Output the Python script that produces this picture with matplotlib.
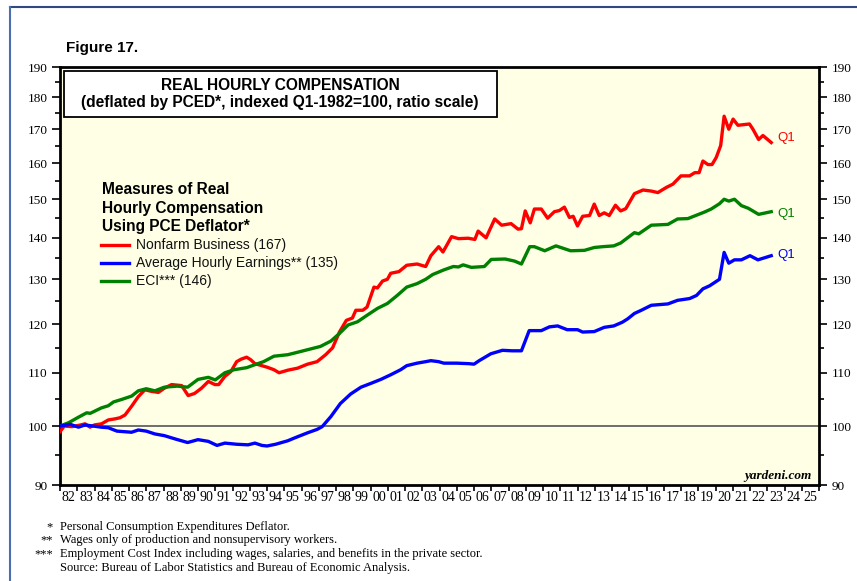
import numpy as np
import matplotlib
matplotlib.use('Agg')
from matplotlib import pyplot as plt
from matplotlib.lines import Line2D
from matplotlib.patches import Rectangle
from matplotlib.ticker import FixedLocator, NullFormatter, FuncFormatter

# values (decimal year, index Q1-1982=100)
nfb_t = [1982.0, 1982.25, 1982.7, 1983.2, 1983.45, 1983.74, 1984.0, 1984.41, 1984.8, 1985.2,
         1985.48, 1985.77, 1986.15, 1986.54, 1986.92, 1987.3, 1987.7, 1988.05, 1988.47, 1989.05,
         1989.43, 1989.8, 1990.2, 1990.6, 1990.98, 1991.2, 1991.56, 1991.9, 1992.24, 1992.5,
         1992.82, 1993.05, 1993.3, 1994.0, 1994.4, 1994.7, 1995.2, 1995.77, 1996.35, 1996.9,
         1997.4, 1997.8, 1998.2, 1998.6, 1998.95, 1999.15, 1999.55, 1999.8, 2000.2, 2000.4,
         2000.7, 2000.98, 2001.17, 2001.65, 2002.1, 2002.7, 2003.2, 2003.5, 2003.95, 2004.2,
         2004.7, 2005.1, 2005.66, 2006.05, 2006.24, 2006.7, 2007.2, 2007.6, 2008.15, 2008.55,
         2008.75, 2008.97, 2009.26, 2009.5, 2009.9, 2010.27, 2010.66, 2010.95, 2011.24, 2011.53,
         2011.75, 2012.0, 2012.3, 2012.7, 2012.97, 2013.26, 2013.55, 2013.84, 2014.2, 2014.5,
         2014.8, 2015.3, 2015.8, 2016.28, 2016.66, 2017.15, 2017.53, 2018.0, 2018.5, 2018.8,
         2019.05, 2019.27, 2019.56, 2019.8, 2020.04, 2020.3, 2020.5, 2020.77, 2021.02, 2021.3,
         2021.97, 2022.17, 2022.5, 2022.75, 2023.23]
nfb_v = [99.0, 100.0, 99.9, 100.2, 100.4, 99.8, 100.2, 100.4, 101.1, 101.3,
         101.5, 102.0, 103.6, 105.4, 106.7, 106.4, 106.2, 107.0, 107.7, 107.5,
         105.6, 106.0, 107.0, 108.3, 107.7, 107.7, 109.3, 110.2, 112.2, 112.7,
         113.1, 112.6, 111.8, 111.1, 110.6, 110.0, 110.5, 110.9, 111.7, 112.2,
         113.6, 115.0, 118.3, 120.8, 121.3, 123.0, 123.0, 123.7, 128.2, 128.0,
         129.6, 130.0, 131.4, 131.8, 133.3, 133.6, 133.0, 135.6, 137.8, 136.5,
         140.3, 139.8, 139.9, 139.6, 141.7, 140.0, 144.8, 143.2, 143.6, 142.2,
         142.3, 146.9, 143.8, 147.4, 147.4, 145.0, 146.7, 147.0, 147.9, 145.2,
         145.5, 143.0, 145.5, 145.7, 148.7, 145.7, 146.4, 145.7, 148.4, 146.9,
         147.5, 151.5, 152.5, 152.2, 151.8, 153.2, 154.1, 156.4, 156.4, 157.3,
         157.3, 160.6, 159.6, 159.6, 161.6, 165.1, 174.0, 170.0, 173.1, 171.2,
         171.6, 170.0, 166.9, 168.1, 166.0]

ahe_t = [1982.0, 1982.6, 1983.07, 1983.45, 1984.4, 1984.8, 1985.3, 1986.15, 1986.54, 1987.0,
         1987.5, 1988.05, 1988.7, 1989.4, 1990.0, 1990.6, 1991.1, 1991.56, 1992.24, 1992.9,
         1993.3, 1993.7, 1994.0, 1994.5, 1995.2, 1995.6, 1996.35, 1996.9, 1997.2, 1997.7,
         1998.25, 1998.85, 1999.45, 2000.0, 2000.6, 2001.17, 2001.75, 2002.1, 2002.7, 2003.2,
         2003.5, 2003.95, 2004.25, 2005.0, 2005.7, 2006.0, 2006.3, 2006.98, 2007.65, 2008.2,
         2008.75, 2009.2, 2009.9, 2010.37, 2010.85, 2011.4, 2012.0, 2012.3, 2012.97, 2013.55,
         2014.1, 2014.6, 2014.9, 2015.3, 2015.7, 2016.28, 2017.24, 2017.8, 2018.5, 2018.9,
         2019.27, 2019.66, 2020.23, 2020.5, 2020.77, 2021.1, 2021.5, 2022.0, 2022.46, 2023.23]
ahe_v = [100.0, 100.3, 99.8, 100.2, 99.8, 99.7, 99.1, 98.9, 99.3, 99.1,
         98.6, 98.3, 97.7, 97.1, 97.6, 97.3, 96.6, 97.0, 96.8, 96.7,
         97.0, 96.6, 96.5, 96.8, 97.4, 97.9, 98.8, 99.4, 99.9, 101.7,
         104.1, 105.9, 107.2, 107.9, 108.7, 109.6, 110.6, 111.4, 111.9, 112.2,
         112.4, 112.2, 111.9, 111.9, 111.8, 111.7, 112.4, 113.8, 114.5, 114.4,
         114.4, 118.6, 118.6, 119.4, 119.6, 118.8, 118.8, 118.3, 118.4, 119.3,
         119.6, 120.4, 121.1, 122.3, 123.0, 124.1, 124.4, 125.2, 125.6, 126.3,
         127.8, 128.5, 130.0, 136.4, 133.8, 134.6, 134.6, 135.6, 134.6, 135.6]

eci_t = [1982.0, 1982.5, 1983.07, 1983.55, 1983.75, 1984.4, 1984.8, 1985.1, 1985.6, 1986.15,
         1986.54, 1987.0, 1987.5, 1988.05, 1988.8, 1989.4, 1990.0, 1990.6, 1991.0, 1991.56,
         1992.1, 1992.82, 1993.3, 1993.8, 1994.4, 1995.2, 1995.77, 1996.55, 1997.1, 1997.7,
         1998.2, 1998.7, 1999.25, 1999.8, 2000.4, 2000.98, 2001.55, 2002.1, 2002.7, 2003.2,
         2003.6, 2004.25, 2004.8, 2005.1, 2005.37, 2005.85, 2006.6, 2007.0, 2007.8, 2008.35,
         2008.75, 2009.23, 2009.5, 2010.1, 2010.75, 2011.6, 2012.4, 2012.97, 2013.45, 2014.1,
         2014.5, 2014.9, 2015.3, 2015.55, 2016.28, 2017.24, 2017.8, 2018.4, 2019.36, 2019.75,
         2020.23, 2020.5, 2020.77, 2021.1, 2021.5, 2021.9, 2022.5, 2023.23]
eci_v = [100.0, 100.6, 101.6, 102.4, 102.3, 103.3, 103.7, 104.4, 104.9, 105.5,
         106.5, 106.9, 106.5, 107.2, 107.4, 107.2, 108.7, 109.1, 108.6, 110.0,
         110.6, 111.0, 111.6, 112.2, 113.3, 113.6, 114.1, 114.8, 115.3, 116.4,
         118.0, 119.8, 120.5, 121.9, 123.4, 124.5, 126.3, 128.2, 129.0, 130.0,
         131.1, 132.2, 133.0, 132.9, 133.4, 132.8, 133.0, 134.7, 134.8, 134.3,
         133.6, 137.8, 137.8, 136.8, 138.0, 136.8, 136.9, 137.6, 137.8, 138.0,
         138.7, 140.0, 141.3, 141.0, 143.2, 143.4, 144.8, 144.9, 146.6, 147.4,
         148.8, 150.0, 149.5, 150.0, 148.3, 147.6, 146.0, 146.7]

series_labels = ['Nonfarm Business (167)', 'Average Hourly Earnings** (135)', 'ECI*** (146)']
series_colors = ['#ff0000', '#0000ff', '#008000']

year_ticks = list(range(1982, 2027))
year_labels = ['%02d' % (y % 100) for y in range(1982, 2026)]

footnote_marks = ['*', '**', '***', '']
footnotes = ['Personal Consumption Expenditures Deflator.',
             'Wages only of production and nonsupervisory workers.',
             'Employment Cost Index including wages, salaries, and benefits in the private sector.',
             'Source: Bureau of Labor Statistics and Bureau of Economic Analysis.']

SANS = 'Liberation Sans'
SERIF = 'Liberation Serif'
W, H = 857, 581


def fx(px):
    return px / W


def fy(py):
    return 1 - py / H


fig = plt.figure(figsize=(W / 100, H / 100), dpi=100)
fig.patch.set_facecolor('white')

# page frame lines
fig.add_artist(Line2D([fx(10), 1.0], [fy(7), fy(7)], color='#2e4a80', lw=1.5))
fig.add_artist(Line2D([fx(10), fx(10)], [fy(7), 0.0], color='#4a6fb0', lw=1.5))

ax = fig.add_axes([fx(60), fy(485), (819 - 60) / W, (485 - 67) / H])
ax.set_facecolor('#ffffe6')
for sp in ax.spines.values():
    sp.set_linewidth(2)
    sp.set_color('black')

ax.axhline(100, color='#555555', lw=1.2, zorder=1)
ax.plot(nfb_t, nfb_v, color=series_colors[0], lw=2.4, zorder=3)
ax.plot(eci_t, eci_v, color=series_colors[2], lw=2.4, zorder=3)
ax.plot(ahe_t, ahe_v, color=series_colors[1], lw=2.4, zorder=3)

ax.set_yscale('log')
ax.set_ylim(90, 190)
ax.yaxis.set_major_locator(FixedLocator(list(range(90, 200, 10))))
ax.yaxis.set_minor_locator(FixedLocator(list(range(95, 190, 10))))
ax.yaxis.set_major_formatter(FuncFormatter(lambda v, p: '%d' % round(v)))
ax.yaxis.set_minor_formatter(NullFormatter())
ax.tick_params(axis='y', which='both', left=True, right=True, labelleft=True, labelright=True,
               direction='out', width=1.2, labelsize=9.5, pad=3)
ax.tick_params(axis='y', which='major', length=6)
ax.tick_params(axis='y', which='minor', length=3.5)

ax.set_xlim(1982, 2026)
ax.xaxis.set_major_locator(FixedLocator(year_ticks))
ax.xaxis.set_major_formatter(NullFormatter())
ax.xaxis.set_minor_locator(FixedLocator([y + 0.5 for y in range(1982, 2026)]))
ax.set_xticklabels(year_labels, minor=True)
ax.tick_params(axis='x', which='major', direction='out', length=4, width=1.2)
ax.tick_params(axis='x', which='minor', length=0, labelsize=10, pad=4)
for lab in ax.get_xticklabels(minor=True) + ax.get_yticklabels():
    lab.set_fontfamily(SERIF)

# title box
ax.add_patch(Rectangle(((64 - 60) / 759, (485 - 117) / 418), (497 - 64) / 759, (117 - 71) / 418,
                       transform=ax.transAxes, facecolor='white', edgecolor='black', lw=1.3, zorder=5))
fig.text(fx(280), fy(86), 'REAL HOURLY COMPENSATION', ha='center', va='center',
         fontsize=11.2, fontweight='bold', family=SANS, zorder=6)
fig.text(fx(280), fy(103), '(deflated by PCED*, indexed Q1-1982=100, ratio scale)', ha='center',
         va='center', fontsize=11.2, fontweight='bold', family=SANS, zorder=6)

fig.text(fx(66), fy(48), 'Figure 17.', ha='left', va='center', fontsize=11, fontweight='bold', family=SANS)

# legend
legend_title = ['Measures of Real', 'Hourly Compensation', 'Using PCE Deflator*']
for i, line in enumerate(legend_title):
    fig.text(fx(102), fy(190 + 18 * i), line, ha='left', va='center', fontsize=11.2,
             fontweight='bold', family=SANS)
for i, (lab, col) in enumerate(zip(series_labels, series_colors)):
    yy = 245 + 18 * i
    fig.add_artist(Line2D([fx(101), fx(129)], [fy(yy), fy(yy)], color=col, lw=2.4))
    fig.text(fx(136), fy(yy), lab, ha='left', va='center', fontsize=10, family=SANS, color='#111111')

# end-of-line labels
fig.text(fx(777), fy(138), 'Q1', color=series_colors[0], fontsize=9.5, family=SANS, va='center')
fig.text(fx(777), fy(214), 'Q1', color=series_colors[2], fontsize=9.5, family=SANS, va='center')
fig.text(fx(777), fy(255), 'Q1', color=series_colors[1], fontsize=9.5, family=SANS, va='center')

fig.text(fx(812), fy(476), 'yardeni.com', ha='right', va='center', fontsize=9.5,
         fontweight='bold', style='italic', family=SERIF)

# footnotes
for i, (m, t) in enumerate(zip(footnote_marks, footnotes)):
    yy = 527 + 13.5 * i
    if m:
        fig.text(fx(53), fy(yy), m, ha='right', va='center', fontsize=9, family=SERIF)
    fig.text(fx(60), fy(yy), t, ha='left', va='center', fontsize=9, family=SERIF)

fig.savefig('out.png', dpi=100)
